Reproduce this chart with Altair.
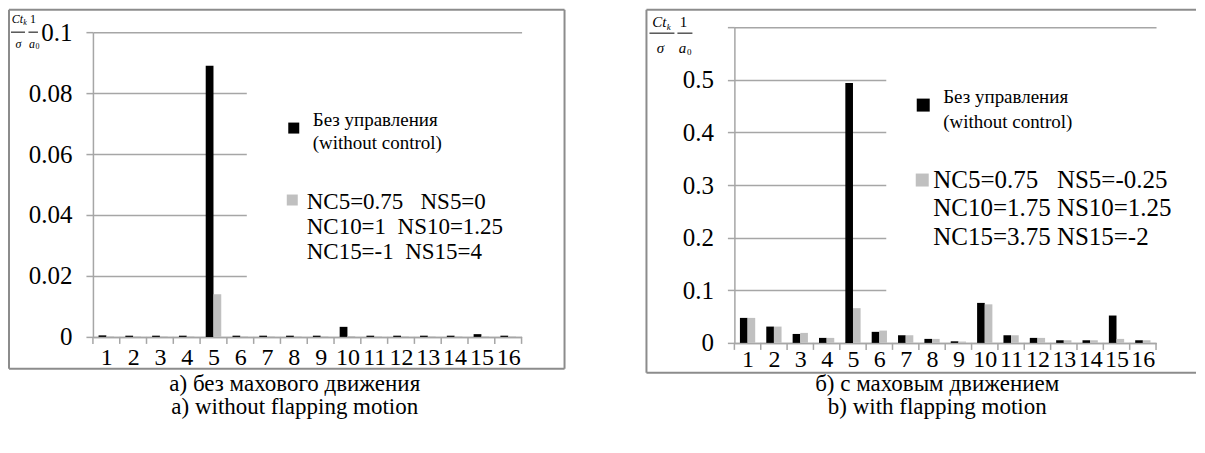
import altair as alt
import pandas as pd

FONT = "Times New Roman, Liberation Serif, DejaVu Serif, serif"

cats = list(range(1, 17))
bounds_k = [i + 0.5 for i in range(0, 17)]

# panel a) without flapping motion
a_black = [0.0005, 0.0004, 0.0004, 0.0004, 0.089, 0.0004, 0.0004, 0.0004,
           0.0004, 0.0033, 0.0004, 0.0004, 0.0004, 0.0004, 0.0009, 0.0004]
a_gray = [0.0002, 0.0002, 0.0002, 0.0002, 0.014, 0.0002, 0.0002, 0.0002,
          0.0002, 0.0003, 0.0002, 0.0002, 0.0002, 0.0002, 0.0002, 0.0002]
a_yticks = [0, 0.02, 0.04, 0.06, 0.08, 0.1]

# panel b) with flapping motion
b_black = [0.0475, 0.031, 0.017, 0.0095, 0.494, 0.021, 0.0145, 0.0076,
           0.003, 0.076, 0.0145, 0.0095, 0.005, 0.005, 0.052, 0.005]
b_gray = [0.0475, 0.031, 0.019, 0.0095, 0.066, 0.0234, 0.0145, 0.0076,
          0.0025, 0.0733, 0.0145, 0.0095, 0.005, 0.005, 0.0076, 0.005]
b_yticks = [0, 0.1, 0.2, 0.3, 0.4, 0.5, 0.6]

leg_base = ["Без управления", "(without control)"]
a_ctrl = ["NC5=0.75\u00a0\u00a0\u00a0NS5=0", "NC10=1\u00a0\u00a0NS10=1.25", "NC15=-1\u00a0\u00a0NS15=4"]
b_ctrl = ["NC5=0.75\u00a0\u00a0\u00a0NS5=-0.25", "NC10=1.75 NS10=1.25", "NC15=3.75 NS15=-2"]

a_caption = ["а) без махового движения", "a) without flapping motion"]
b_caption = ["б) с маховым движением", "b) with flapping motion"]

one = pd.DataFrame({"o": [0]})
GRID = "#a6a6a6"
FRAME = "#8c8c8c"
OY = 27  # common plot-origin top


def panel(black, gray, yticks, ymax, ox, ytop_px, ybase_px, W, grid_cut, cut_y, frame,
          frac, legend, caption, show_top_label, lab_pad):
    oy = OY
    H = ybase_px - oy

    def X(v):
        return v - ox

    def Y(v):
        return v - oy

    def txt(s, x, y, size, align="left", style="normal"):
        return alt.Chart(one).mark_text(
            text=s, font=FONT, fontSize=size, align=align, baseline="middle",
            fontStyle=style, color="black"
        ).encode(x=alt.value(X(x)), y=alt.value(Y(y)))

    def hline(x1, x2, y, color="black", w=1.0):
        return alt.Chart(one).mark_rule(color=color, strokeWidth=w).encode(
            x=alt.value(X(x1)), x2=alt.value(X(x2)), y=alt.value(Y(y)))

    def vline(x, y1, y2, color="black", w=1.0):
        return alt.Chart(one).mark_rule(color=color, strokeWidth=w).encode(
            x=alt.value(X(x)), y=alt.value(Y(y1)), y2=alt.value(Y(y2)))

    def sq(x, y, color, s):
        return alt.Chart(one).mark_square(color=color, opacity=1, size=s * s).encode(
            x=alt.value(X(x)), y=alt.value(Y(y)))

    def box(x1, x2, y1, y2):
        return alt.Chart(one).mark_rect(color="white", opacity=1).encode(
            x=alt.value(X(x1)), x2=alt.value(X(x2)), y=alt.value(Y(y1)), y2=alt.value(Y(y2)))

    xs = alt.Scale(domain=[0.5, 16.5], nice=False, zero=False)
    ys = alt.Scale(domain=[0, ymax], nice=False, zero=True, range=[H, Y(ytop_px)])

    xaxis = alt.Axis(
        values=cats, format="d", ticks=False, grid=False, title=None,
        labelFont=FONT, labelFontSize=24, labelColor="black", labelPadding=lab_pad,
        labelBaseline="middle", domainColor=GRID, domainWidth=1.5,
        labelFlush=False, labelOverlap=False)

    df = pd.DataFrame({"k": cats * 2, "s": ["base"] * 16 + ["ctrl"] * 16, "v": black + gray})
    if show_top_label:
        lab = "format(datum.value, '~g')"
    else:
        lab = "datum.value > %f ? '' : format(datum.value, '~g')" % (ymax - 0.01)

    bars = alt.Chart(df).transform_calculate(
        x0="datum.s == 'base' ? datum.k - 0.29 : datum.k",
        x1="datum.s == 'base' ? datum.k : datum.k + 0.29",
    ).mark_rect().encode(
        x=alt.X("x0:Q", scale=xs, axis=xaxis),
        x2="x1:Q",
        y=alt.Y("v:Q", scale=ys, axis=alt.Axis(
            values=yticks, grid=True, gridColor=GRID, gridWidth=1.5, title=None,
            tickSize=7, tickColor=GRID, tickWidth=1.5, domainColor=GRID, domainWidth=1.5,
            labelExpr=lab, labelFont=FONT, labelFontSize=25, labelColor="black",
            labelPadding=14, labelFlush=False)),
        y2=alt.datum(0),
        color=alt.Color("s:N", scale=alt.Scale(domain=["base", "ctrl"], range=["#000000", "#c0c0c0"]),
                        legend=None),
    )

    ticks = alt.Chart(pd.DataFrame({"b": bounds_k})).mark_rule(color=GRID, strokeWidth=1.5).encode(
        x=alt.X("b:Q", scale=xs, axis=xaxis), y=alt.value(H), y2=alt.value(H + 7))

    fl, ft, fr, fb, right_side = frame
    layers = [bars, ticks,
              box(grid_cut, ox + W + 2, cut_y[0], cut_y[1]),
              hline(fl, fr, ft, FRAME, 2), hline(fl, fr, fb, FRAME, 2), vline(fl, ft, fb, FRAME, 2)]
    if right_side:
        layers.append(vline(fr, ft, fb, FRAME, 2))

    # y title as two fractions
    fs, fss, cx1, cx2, ytop, ybar, ybot, b1, b2 = frac
    layers += [
        txt("Ct", cx1, ytop, fs, "center", "italic"),
        txt("k", cx1 + fs * 0.62, ytop + fs * 0.3, fss, "center", "italic"),
        hline(b1[0], b1[1], ybar, "black", 1),
        txt("σ", cx1 + 1, ybot, fs, "center", "italic"),
        txt("1", cx2, ytop, fs, "center"),
        hline(b2[0], b2[1], ybar, "black", 1),
        txt("a", cx2 - 1, ybot, fs, "center", "italic"),
        txt("0", cx2 + fs * 0.38, ybot + fs * 0.25, fss, "center"),
    ]

    (bx, by, bs, tx, ty1, ty2, s1, gx, gy, gs, gtx, gys, s2) = legend
    layers += [
        sq(bx, by, "#000000", bs),
        txt(leg_base[0], tx, ty1, s1), txt(leg_base[1], tx, ty2, s1),
        sq(gx, gy, "#c0c0c0", gs),
    ]
    ctrl = a_ctrl if show_top_label else b_ctrl
    for line, yy in zip(ctrl, gys):
        layers.append(txt(line, gtx, yy, s2))

    ccx, cy1, cy2 = caption
    cap = a_caption if show_top_label else b_caption
    layers += [txt(cap[0], ccx, cy1, 23, "center"), txt(cap[1], ccx, cy2, 23, "center")]

    return alt.layer(*layers).properties(width=W, height=H)


left = panel(
    a_black, a_gray, a_yticks, 0.1, 93, 32, 337, 429, 247, (40, 285),
    (9, 9.5, 565, 369, True),
    (12, 8, 17.5, 33, 19, 32, 44, (11, 25), (28.5, 38)),
    (294, 128, 11, 313, 120, 143, 19, 292.5, 200, 11, 307, [202, 227, 252], 23),
    (295, 384, 407),
    True, 21,
)

right = panel(
    b_black, b_gray, b_yticks, 0.6, 734, 27, 343, 422, 886, (35, 297),
    (646, 9.5, 1196, 373, False),
    (15, 9, 659, 683, 22, 33, 48, (649, 674), (677, 692)),
    (923, 105, 13, 943, 97, 122, 19, 922, 180, 13, 933, [180, 208, 237], 25),
    (937, 384, 407),
    False, 17,
)

chart = alt.hconcat(left, right, spacing=80).properties(
    padding={"left": 0, "top": 0, "right": 0, "bottom": 0}
).configure_view(stroke=None).configure_concat(spacing=80)

chart.save("out.html", embed_options={"renderer": "svg", "actions": False})
